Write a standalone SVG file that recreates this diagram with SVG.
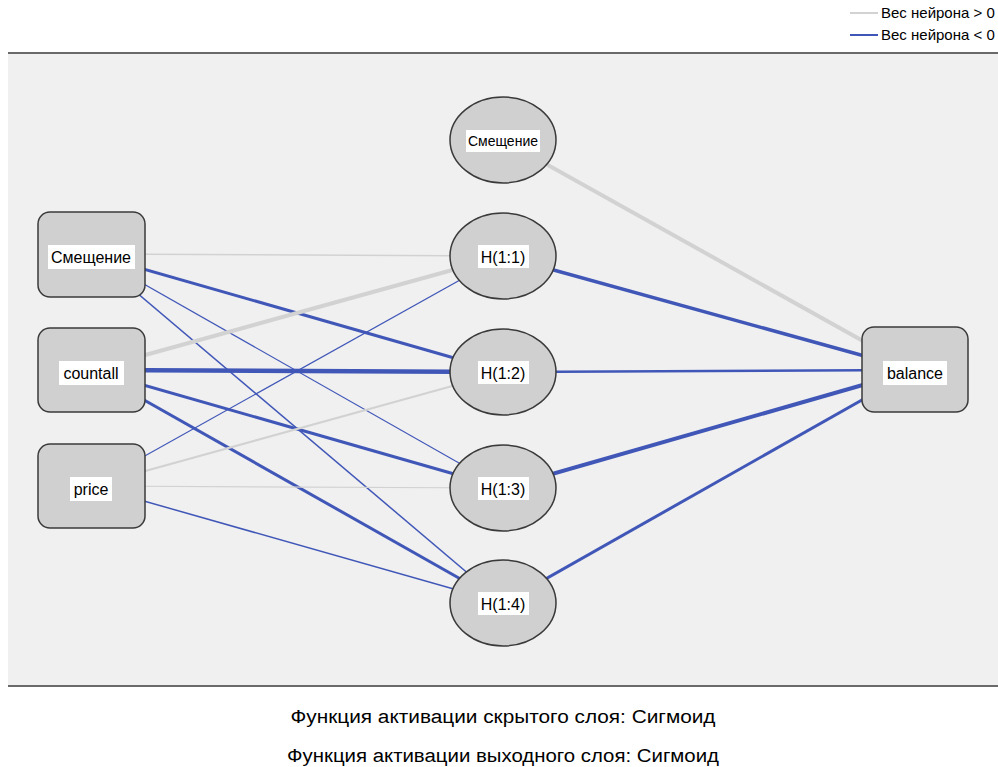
<svg xmlns="http://www.w3.org/2000/svg" width="998" height="767" viewBox="0 0 998 767">
<style>
text{font-family:"Liberation Sans",Arial,sans-serif;fill:#000}
.pos{stroke:#d2d2d2;fill:none}
.neg{stroke:#4057b8;fill:none}
.node{fill:#d0d0d0;stroke:#3a3a3a;stroke-width:1.5}
.lbl{fill:#fff}
.nt{font-size:16px;text-anchor:middle}
.ft{font-size:18px;text-anchor:middle}
.lg{font-size:15px}
</style>
<rect width="998" height="767" fill="#fff"/>
<rect x="8" y="53" width="990" height="633" fill="#f0f0f0"/>
<line x1="8" y1="53" x2="998" y2="53" stroke="#6a6a6a" stroke-width="2"/>
<line x1="8" y1="686" x2="998" y2="686" stroke="#6a6a6a" stroke-width="2"/>
<g id="legend">
<line x1="850" y1="13" x2="878" y2="13" class="pos" stroke-width="2"/>
<text x="881" y="18" class="lg">Вес нейрона &gt; 0</text>
<line x1="850" y1="35" x2="878" y2="35" class="neg" stroke-width="2"/>
<text x="881" y="40" class="lg">Вес нейрона &lt; 0</text>
</g>
<g id="connectors">
<line x1="91" y1="254" x2="503" y2="256" class="pos" stroke-width="1.5"/>
<line x1="91" y1="254" x2="503" y2="372" class="neg" stroke-width="3"/>
<line x1="91" y1="254" x2="503" y2="488" class="neg" stroke-width="1.2"/>
<line x1="91" y1="254" x2="503" y2="603" class="neg" stroke-width="1.5"/>
<line x1="91" y1="370" x2="503" y2="256" class="pos" stroke-width="4"/>
<line x1="91" y1="370" x2="503" y2="372" class="neg" stroke-width="4.5"/>
<line x1="91" y1="370" x2="503" y2="488" class="neg" stroke-width="3"/>
<line x1="91" y1="370" x2="503" y2="603" class="neg" stroke-width="3"/>
<line x1="91" y1="486" x2="503" y2="256" class="neg" stroke-width="1.2"/>
<line x1="91" y1="486" x2="503" y2="372" class="pos" stroke-width="2"/>
<line x1="91" y1="486" x2="503" y2="488" class="pos" stroke-width="1.2"/>
<line x1="91" y1="486" x2="503" y2="603" class="neg" stroke-width="1.5"/>
<line x1="503" y1="140" x2="915" y2="370" class="pos" stroke-width="4"/>
<line x1="503" y1="256" x2="915" y2="370" class="neg" stroke-width="3.5"/>
<line x1="503" y1="372" x2="915" y2="370" class="neg" stroke-width="2.5"/>
<line x1="503" y1="488" x2="915" y2="370" class="neg" stroke-width="4"/>
<line x1="503" y1="603" x2="915" y2="370" class="neg" stroke-width="3"/>
</g>
<g id="in_bias">
<rect x="38" y="212" width="107" height="85" rx="12" class="node"/>
<rect x="48" y="245" width="87" height="24" class="lbl"/>
<text x="91" y="263" class="nt">Смещение</text>
</g>
<g id="in_countall">
<rect x="38" y="328" width="107" height="84" rx="12" class="node"/>
<rect x="59" y="361" width="65" height="24" class="lbl"/>
<text x="91" y="379" class="nt">countall</text>
</g>
<g id="in_price">
<rect x="38" y="444" width="107" height="84" rx="12" class="node"/>
<rect x="70" y="477" width="42" height="24" class="lbl"/>
<text x="91" y="495" class="nt">price</text>
</g>
<g id="h_bias">
<ellipse cx="503" cy="140" rx="53" ry="43" class="node"/>
<rect x="466" y="130" width="74" height="22" class="lbl"/>
<text x="503" y="146" class="nt" style="font-size:14px">Смещение</text>
</g>
<g id="h1">
<ellipse cx="503" cy="256" rx="53" ry="43" class="node"/>
<rect x="478" y="245" width="51" height="23" class="lbl"/>
<text x="503" y="263" class="nt">H(1:1)</text>
</g>
<g id="h2">
<ellipse cx="503" cy="372" rx="53" ry="43" class="node"/>
<rect x="478" y="361" width="51" height="23" class="lbl"/>
<text x="503" y="379" class="nt">H(1:2)</text>
</g>
<g id="h3">
<ellipse cx="503" cy="488" rx="53" ry="43" class="node"/>
<rect x="478" y="477" width="51" height="23" class="lbl"/>
<text x="503" y="495" class="nt">H(1:3)</text>
</g>
<g id="h4">
<ellipse cx="503" cy="603" rx="53" ry="43" class="node"/>
<rect x="478" y="592" width="51" height="23" class="lbl"/>
<text x="503" y="610" class="nt">H(1:4)</text>
</g>
<g id="out_balance">
<rect x="862" y="327" width="106" height="85" rx="12" class="node"/>
<rect x="883" y="361" width="64" height="24" class="lbl"/>
<text x="915" y="379" class="nt">balance</text>
</g>
<g id="footer">
<text x="503" y="723" class="ft" textLength="425" lengthAdjust="spacingAndGlyphs">Функция активации скрытого слоя: Сигмоид</text>
<text x="503" y="762" class="ft" textLength="432" lengthAdjust="spacingAndGlyphs">Функция активации выходного слоя: Сигмоид</text>
</g>
</svg>
